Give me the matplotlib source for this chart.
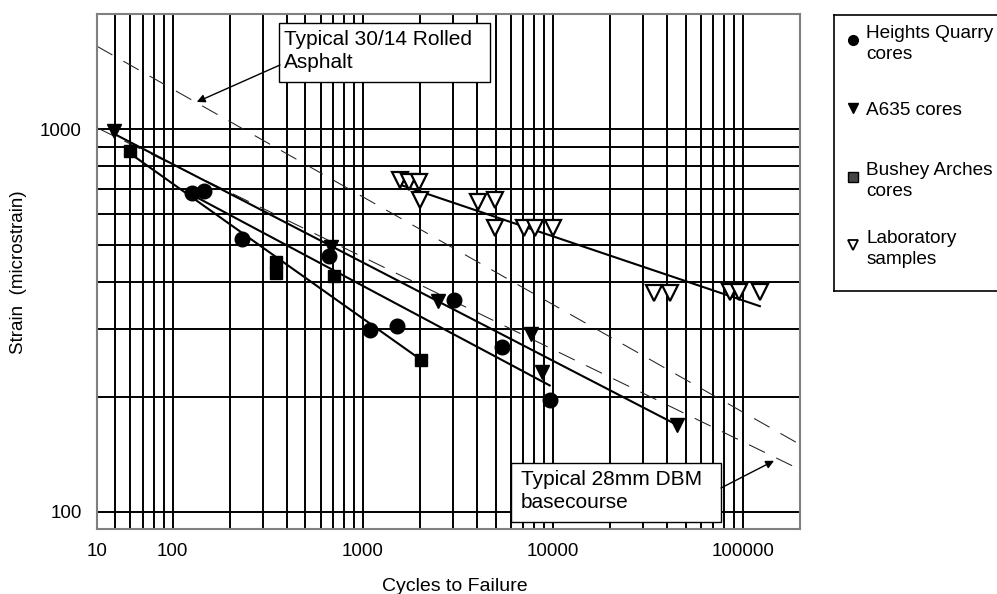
import matplotlib
matplotlib.use('Agg')
import matplotlib.pyplot as plt
from matplotlib.ticker import LogLocator, NullFormatter
from matplotlib.patches import Rectangle

plt.rcParams['font.family'] = ['Liberation Sans', 'DejaVu Sans']

# Heights Quarry cores
hq_cycles = [126, 146, 233, 668, 1090, 1510, 3030, 5420, 9640]
hq_strain = [683, 692, 516, 468, 298, 307, 358, 269, 196]

# A635 cores
a635_cycles = [49, 682, 2500, 7660, 8810, 44800]
a635_strain = [992, 494, 355, 291, 232, 169]

# Bushey Arches cores
ba_cycles = [60, 349, 349, 703, 2020]
ba_strain = [878, 449, 420, 414, 250]

# Laboratory samples
lab_cycles = [1570, 1760, 1990, 2000, 4050, 4990, 4990, 7050, 8060, 10000,
              34100, 41200, 85700, 96000, 123400]
lab_strain = [739, 730, 730, 654, 647, 654, 551, 551, 551, 551,
              373, 373, 375, 375, 375]

# fitted lines (end points)
a635_fit_cycles = [48, 44800]
a635_fit_strain = [980, 169]
hq_fit_cycles = [118, 9640]
hq_fit_strain = [687, 214]
ba_fit_cycles = [59, 2000]
ba_fit_strain = [869, 251]
lab_fit_cycles = [1570, 123000]
lab_fit_strain = [717, 345]

# typical material lines (dashed)
hra_cycles = [40, 200000]
hra_strain = [1650, 150]
dbm_cycles = [40, 200000]
dbm_strain = [1010, 129]

xtick_vals = [40, 100, 1000, 10000, 100000]
xtick_labels = ['10', '100', '1000', '10000', '100000']
ytick_vals = [100, 1000]

fig = plt.figure(figsize=(9.97, 5.94), dpi=100)
ax = fig.add_axes([0.0973, 0.1089, 0.7051, 0.867])

ax.set_xscale('log')
ax.set_yscale('log')
ax.set_xlim(40, 200000)
ax.set_ylim(90, 2000)

ax.set_xticks(xtick_vals, xtick_labels)
ax.set_yticks(ytick_vals, [str(v) for v in ytick_vals])
ax.xaxis.set_minor_locator(LogLocator(subs=range(2, 10)))
ax.yaxis.set_minor_locator(LogLocator(subs=range(2, 10)))
ax.xaxis.set_minor_formatter(NullFormatter())
ax.yaxis.set_minor_formatter(NullFormatter())
ax.tick_params(which='both', length=0, labelsize=13.5)
ax.tick_params(axis='x', pad=10)
ax.tick_params(axis='y', pad=11)
ax.grid(which='both', color='black', lw=1.4)
ax.set_axisbelow(True)
for s in ax.spines.values():
    s.set_color('#808080')
    s.set_linewidth(1.5)

# dashed typical lines
for xs, ys in [(hra_cycles, hra_strain), (dbm_cycles, dbm_strain)]:
    l, = ax.plot(xs, ys, color='#222222', lw=0.75, zorder=2)
    l.set_dashes([17, 12])

# fitted lines
for xs, ys in [(a635_fit_cycles, a635_fit_strain), (hq_fit_cycles, hq_fit_strain),
               (ba_fit_cycles, ba_fit_strain), (lab_fit_cycles, lab_fit_strain)]:
    ax.plot(xs, ys, color='black', lw=1.5, zorder=3)

ax.plot(a635_cycles, a635_strain, 'v', color='black', ms=10, ls='none', zorder=4)
ax.plot(ba_cycles, ba_strain, 's', color='black', ms=9, ls='none', zorder=4)
ax.plot(hq_cycles, hq_strain, 'o', color='black', ms=10.5, ls='none', zorder=5)
ax.plot(lab_cycles, lab_strain, 'v', mfc='white', mec='black', mew=1.6, ms=11,
        ls='none', zorder=5)

ax.set_xlabel('Cycles to Failure', fontsize=14, labelpad=14)
ax.xaxis.set_label_coords(0.509, -0.095)
ax.set_ylabel('Strain  (microstrain)', fontsize=13.5, labelpad=9)

# text boxes with arrows
ax.add_patch(Rectangle((0.2589, 0.8685), 0.3001, 0.1146, transform=ax.transAxes,
                       facecolor='white', edgecolor='black', lw=1, zorder=6))
ax.text(0.266, 0.929, 'Typical 30/14 Rolled\nAsphalt', transform=ax.transAxes,
        fontsize=15, ha='left', va='center', linespacing=1.3, zorder=7)
ax.annotate('', xy=(134, 1180), xycoords='data',
            xytext=(0.2603, 0.9016), textcoords='axes fraction',
            arrowprops=dict(arrowstyle='-|>', color='black', lw=1,
                            mutation_scale=12, shrinkA=0, shrinkB=0), zorder=7)

ax.add_patch(Rectangle((0.5889, 0.0142), 0.2987, 0.1145, transform=ax.transAxes,
                       facecolor='white', edgecolor='black', lw=1, zorder=6))
ax.text(0.603, 0.0744, 'Typical 28mm DBM\nbasecourse', transform=ax.transAxes,
        fontsize=15, ha='left', va='center', linespacing=1.3, zorder=7)
ax.annotate('', xy=(146000, 136), xycoords='data',
            xytext=(0.8876, 0.0802), textcoords='axes fraction',
            arrowprops=dict(arrowstyle='-|>', color='black', lw=1,
                            mutation_scale=12, shrinkA=0, shrinkB=0), zorder=7)

# legend box (runs past the right edge of the figure)
lax = fig.add_axes([0.8365, 0.5106, 0.2, 0.4641])
lax.set_xlim(0, 1)
lax.set_ylim(0, 1)
lax.set_xticks([])
lax.set_yticks([])
for s in lax.spines.values():
    s.set_color('black')
    s.set_linewidth(1.2)

legend_labels = ['Heights Quarry\ncores', 'A635 cores', 'Bushey Arches\ncores',
                 'Laboratory\nsamples']
legend_y = [0.9093, 0.6627, 0.4124, 0.1658]
legend_style = [dict(marker='o', color='black'),
                dict(marker='v', color='black'),
                dict(marker='s', mfc='#444444', mec='black'),
                dict(marker='v', mfc='white', mec='black', mew=1.3)]
for lab, y, st in zip(legend_labels, legend_y, legend_style):
    lax.plot([0.0953], [y], ls='none', ms=7, **st)
    lax.text(0.163, y, lab, fontsize=13.7, ha='left', va='center_baseline',
             linespacing=1.3)

fig.savefig('out.png', dpi=100)
